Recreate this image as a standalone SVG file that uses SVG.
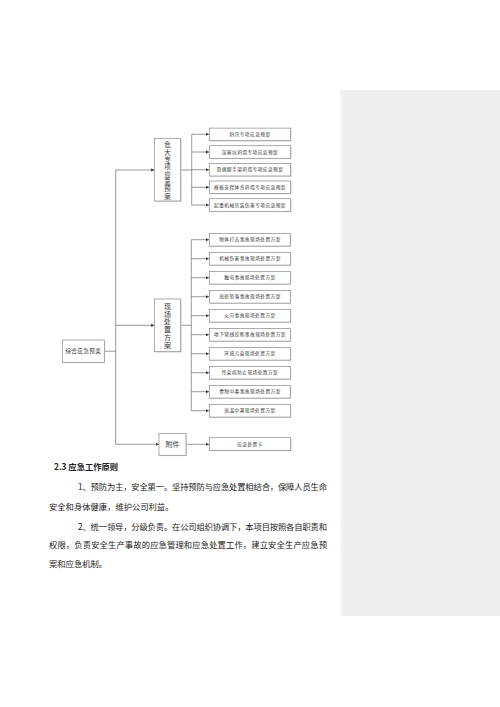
<svg xmlns="http://www.w3.org/2000/svg" width="500" height="707" viewBox="0 0 500 707">
<defs>
<marker id="ah" viewBox="0 0 6 6" refX="6" refY="3" markerWidth="3.2" markerHeight="3.2" markerUnits="userSpaceOnUse" orient="auto"><path d="M0,0 L6,3 L0,6 Z" fill="#333"/></marker>
<style>
.bx{fill:#fff;stroke:#888;stroke-width:0.7}
.sh{fill:#d8d8d8}
.ln{fill:none;stroke:#555;stroke-width:0.6}
.ar{fill:none;stroke:#555;stroke-width:0.6;marker-end:url(#ah)}
.lt{font-family:"Noto Sans CJK SC","Noto Sans",sans-serif;font-size:4.7px;fill:#333;text-anchor:middle;letter-spacing:0.45px}
.vt{font-family:"Noto Sans CJK SC","Noto Sans",sans-serif;fill:#333;text-anchor:middle}
.vv{font-family:"Noto Sans CJK SC","Noto Sans",sans-serif;fill:#333;text-anchor:middle;writing-mode:vertical-rl;text-orientation:upright}
.pt{font-family:"Noto Sans CJK SC","Noto Sans",sans-serif;font-size:8.3px;fill:#222}
</style>
</defs>
<rect width="500" height="707" fill="#fff"/>
<rect x="340" y="90" width="160" height="526" fill="#f0f0f0"/>
<rect x="340" y="90" width="3" height="526" fill="#f3f3f3"/>

<g id="connectors">
<path class="ln" d="M104.3,351.2 H115.7 M115.7,170 V444.3"/>
<path class="ar" d="M115.7,170 H154.3"/>
<path class="ar" d="M115.7,325.3 H154.3"/>
<path class="ar" d="M115.7,444.3 H159"/>
<path class="ln" d="M180.7,170 H191.7 M191.7,134.3 V205"/>
<path class="ar" d="M191.7,134.3 H209"/>
<path class="ar" d="M191.7,152 H209"/>
<path class="ar" d="M191.7,169.7 H209"/>
<path class="ar" d="M191.7,187.3 H209"/>
<path class="ar" d="M191.7,205 H209"/>
<path class="ln" d="M180.7,325.3 H191.3 M191.3,239.7 V410.7"/>
<path class="ar" d="M191.3,239.7 H209"/>
<path class="ar" d="M191.3,258.7 H209"/>
<path class="ar" d="M191.3,277.7 H209"/>
<path class="ar" d="M191.3,296.7 H209"/>
<path class="ar" d="M191.3,315.7 H209"/>
<path class="ar" d="M191.3,334.7 H209"/>
<path class="ar" d="M191.3,353.7 H209"/>
<path class="ar" d="M191.3,372.7 H209"/>
<path class="ar" d="M191.3,391.7 H209"/>
<path class="ar" d="M191.3,410.7 H209"/>
<path class="ar" d="M186,444.3 H209"/>
</g>

<g id="root">
<rect class="sh" x="63.1" y="340.8" width="42" height="22.3"/>
<rect class="bx" x="62.3" y="340" width="42" height="22.3"/>
<text class="vt" x="83.3" y="353.3" font-size="5.6" letter-spacing="0.4">综合应急预案</text>
</g>

<g id="major">
<rect class="sh" x="155.1" y="139.1" width="26.4" height="62.7"/>
<rect class="bx" x="154.3" y="138.3" width="26.4" height="62.7"/>
<text class="vv" x="167.5" y="170.9" font-size="6.5" letter-spacing="0.8">危大专项应急预案</text>
</g>

<g id="onsite">
<rect class="sh" x="155.1" y="299.8" width="26.4" height="52.7"/>
<rect class="bx" x="154.3" y="299" width="26.4" height="52.7"/>
<text class="vv" x="167.5" y="326" font-size="7" letter-spacing="0.8">现场处置方案</text>
</g>

<g id="attach">
<rect class="sh" x="159.8" y="434.1" width="27" height="22"/>
<rect class="bx" x="159" y="433.3" width="27" height="22"/>
<text class="vt" x="172.5" y="446.8" font-size="7">附件</text>
</g>

<g id="m1"><rect class="sh" x="210.1" y="128.9" width="81.4" height="12.6"/><rect class="bx" x="209.3" y="128.1" width="81.4" height="12.6"/><text class="lt" x="250" y="136">防汛专项应急预案</text></g>
<g id="m2"><rect class="sh" x="210.1" y="146.5" width="81.4" height="12.6"/><rect class="bx" x="209.3" y="145.7" width="81.4" height="12.6"/><text class="lt" x="250" y="153.7">深基坑坍塌专项应急预案</text></g>
<g id="m3"><rect class="sh" x="210.1" y="164.2" width="81.4" height="12.6"/><rect class="bx" x="209.3" y="163.4" width="81.4" height="12.6"/><text class="lt" x="250" y="171.4">悬挑脚手架坍塌专项应急预案</text></g>
<g id="m4"><rect class="sh" x="210.1" y="181.8" width="81.4" height="12.6"/><rect class="bx" x="209.3" y="181" width="81.4" height="12.6"/><text class="lt" x="250" y="189">模板支撑体系坍塌专项应急预案</text></g>
<g id="m5"><rect class="sh" x="210.1" y="199.5" width="81.4" height="12.6"/><rect class="bx" x="209.3" y="198.7" width="81.4" height="12.6"/><text class="lt" x="250" y="206.7">起重机械吊装伤害专项应急预案</text></g>

<g id="s1"><rect class="sh" x="210.1" y="234.2" width="81" height="12.7"/><rect class="bx" x="209.3" y="233.4" width="81" height="12.7"/><text class="lt" x="250" y="241.4">物体打击事故现场处置方案</text></g>
<g id="s2"><rect class="sh" x="210.1" y="253.2" width="81" height="12.7"/><rect class="bx" x="209.3" y="252.4" width="81" height="12.7"/><text class="lt" x="250" y="260.4">机械伤害事故现场处置方案</text></g>
<g id="s3"><rect class="sh" x="210.1" y="272.2" width="81" height="12.7"/><rect class="bx" x="209.3" y="271.4" width="81" height="12.7"/><text class="lt" x="250" y="279.4">触电事故现场处置方案</text></g>
<g id="s4"><rect class="sh" x="210.1" y="291.2" width="81" height="12.7"/><rect class="bx" x="209.3" y="290.4" width="81" height="12.7"/><text class="lt" x="250" y="298.4">高处坠落事故现场处置方案</text></g>
<g id="s5"><rect class="sh" x="210.1" y="310.2" width="81" height="12.7"/><rect class="bx" x="209.3" y="309.4" width="81" height="12.7"/><text class="lt" x="250" y="317.4">火灾事故现场处置方案</text></g>
<g id="s6"><rect class="sh" x="210.1" y="329.2" width="81" height="12.7"/><rect class="bx" x="209.3" y="328.4" width="81" height="12.7"/><text class="lt" x="250" y="336.4">地下管线挖断事故现场处置方案</text></g>
<g id="s7"><rect class="sh" x="210.1" y="348.2" width="81" height="12.7"/><rect class="bx" x="209.3" y="347.4" width="81" height="12.7"/><text class="lt" x="250" y="355.4">环境污染现场处置方案</text></g>
<g id="s8"><rect class="sh" x="210.1" y="367.2" width="81" height="12.7"/><rect class="bx" x="209.3" y="366.4" width="81" height="12.7"/><text class="lt" x="250" y="374.4">传染病防止现场处置方案</text></g>
<g id="s9"><rect class="sh" x="210.1" y="386.2" width="81" height="12.7"/><rect class="bx" x="209.3" y="385.4" width="81" height="12.7"/><text class="lt" x="250" y="393.4">食物中毒事故现场处置方案</text></g>
<g id="s10"><rect class="sh" x="210.1" y="405.2" width="81" height="12.7"/><rect class="bx" x="209.3" y="404.4" width="81" height="12.7"/><text class="lt" x="250" y="412.4">高温中暑现场处置方案</text></g>

<g id="card"><rect class="sh" x="210.1" y="438.5" width="81.4" height="12.6"/><rect class="bx" x="209.3" y="437.7" width="81.4" height="12.6"/><text class="lt" x="250" y="445.7">应急处置卡</text></g>

<text class="pt" x="54" y="470.3" font-weight="bold" font-size="8.6">2.3 应急工作原则</text>
<text class="pt" x="78" y="489.7" textLength="249" lengthAdjust="spacing">1、预防为主，安全第一。坚持预防与应急处置相结合，保障人员生命</text>
<text class="pt" x="49" y="509.6">安全和身体健康，维护公司利益。</text>
<text class="pt" x="78" y="529.5" textLength="249" lengthAdjust="spacing">2、统一领导，分级负责。在公司组织协调下，本项目按照各自职责和</text>
<text class="pt" x="49" y="548.2" textLength="278" lengthAdjust="spacing">权限，负责安全生产事故的应急管理和应急处置工作，建立安全生产应急预</text>
<text class="pt" x="49" y="566.6">案和应急机制。</text>
</svg>
